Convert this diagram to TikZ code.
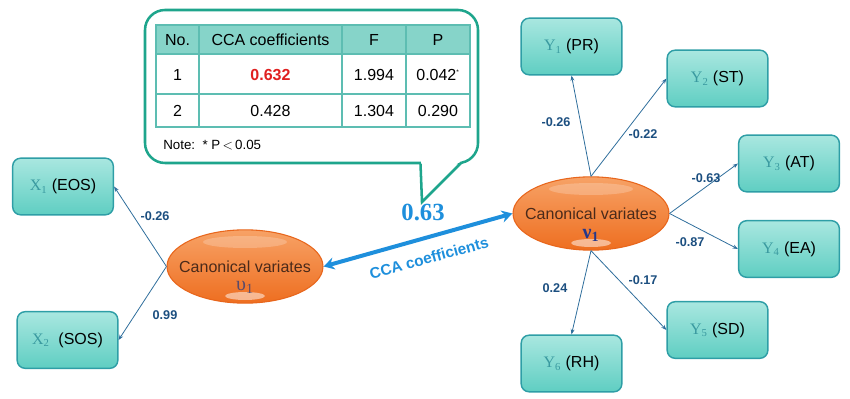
\documentclass[tikz,border=0pt]{standalone}
\usepackage{fontspec}
\setmainfont{Liberation Sans}
\newfontfamily\serifx{Liberation Serif}
\usetikzlibrary{arrows.meta,shapes.geometric}
\definecolor{boxfillT}{HTML}{A9E7E0}
\definecolor{boxfillB}{HTML}{5FCEC2}
\definecolor{boxborder}{HTML}{2E9EA6}
\definecolor{orangeT}{HTML}{F7A266}
\definecolor{orangeB}{HTML}{EE6E20}
\definecolor{orangeD}{HTML}{E8661C}
\definecolor{linec}{HTML}{2F6E9C}
\definecolor{labc}{HTML}{1C4F80}
\definecolor{bigblue}{HTML}{1E8FDC}
\definecolor{calloutc}{HTML}{1EA58C}
\definecolor{gridc}{HTML}{5DBDB2}
\definecolor{headfill}{HTML}{86D4C9}
\definecolor{xcol}{HTML}{3A9AA0}
\definecolor{ellText}{HTML}{4A2A1A}
\definecolor{upsc}{HTML}{5A4A6A}
\definecolor{nuc}{HTML}{25388A}
\definecolor{redv}{HTML}{E02020}
\tikzset{
  varbox/.style={draw=boxborder, line width=1.1pt, rounded corners=6pt,
    top color=boxfillT, bottom color=boxfillB, minimum width=75.5pt,
    minimum height=42.5pt, inner sep=0pt, font=\fontsize{12}{14}\selectfont, text=black},
  canon/.style={ellipse, draw=orangeD, line width=0.8pt, top color=orangeT,
    bottom color=orangeB, minimum width=117pt, minimum height=55pt, inner xsep=-9pt,
    inner ysep=0pt, align=center, text=ellText, font=\fontsize{12}{14}\selectfont},
  sublab/.style={inner sep=0pt, font=\serifx\fontsize{15}{15}\selectfont},
  load/.style={draw=linec, line width=0.6pt, -{Stealth[length=4pt,width=3pt]}},
  loadlab/.style={text=labc, font=\bfseries\fontsize{9.5}{11}\selectfont, inner sep=0pt},
  big/.style={draw=bigblue, line width=3pt, {Stealth[length=8pt,width=9pt]}-{Stealth[length=8pt,width=9pt]}},
  cell/.style={font=\fontsize{12}{14}\selectfont, inner sep=0pt, text=black},
}
\newcommand{\xv}[2]{{\serifx\color{xcol}#1\textsubscript{#2}}}
\begin{document}
\begin{tikzpicture}[x=0.75pt,y=-0.75pt]
\useasboundingbox (0,0) rectangle (850,399);
% callout
\draw[calloutc, line width=1.9pt, fill=white, rounded corners=15] (145,10) rectangle (478,163);
\fill[white] (421.2,160) -- (421.6,163) -- (461,163) -- (461,160.5) -- cycle;
\fill[white] (421.2,161) -- (422,201) -- (460,161) -- cycle;
\draw[calloutc, line width=1.9pt, line join=miter] (420.5,163.9) -- (422,202) -- (461.5,162.5);
% table
\fill[headfill] (156,25) rectangle (470,54);
\draw[gridc, line width=0.9pt] (156,25) rectangle (470,127);
\foreach \yy in {54,94} \draw[gridc, line width=0.9pt] (156,\yy) -- (470,\yy);
\foreach \xx in {199,342,406} \draw[gridc, line width=0.9pt] (\xx,25) -- (\xx,127);
\node[cell] (h1) at (177.5,40) {No.};
\node[cell] (h2) at (270.5,40) {CCA coefficients};
\node[cell] (h3) at (374,40) {F};
\node[cell] (h4) at (438,40) {P};
\node[cell] (a1) at (177.5,75) {1};
\node[cell, text=redv, font=\bfseries\fontsize{12}{14}\selectfont] (a2) at (270.5,75) {0.632};
\node[cell] (a3) at (374,75) {1.994};
\node[cell] (a4) at (438,75) {0.042\textsuperscript{\tiny *}};
\node[cell] (b1) at (177.5,110.5) {2};
\node[cell] (b2) at (270.5,110.5) {0.428};
\node[cell] (b3) at (374,110.5) {1.304};
\node[cell] (b4) at (438,110.5) {0.290};
\node[anchor=west, inner sep=0pt, font=\fontsize{10}{12}\selectfont] (note) at (163,145) {Note:\ \ * P\,$<$\,0.05};
% boxes
\node[varbox] (x1) at (63,186.5) {\xv{X}{1} (EOS)};
\node[varbox] (x2) at (67.5,340) {\xv{X}{2}\ \ (SOS)};
\node[varbox] (y1) at (571.5,46.5) {\xv{Y}{1} (PR)};
\node[varbox] (y2) at (717.5,78.5) {\xv{Y}{2} (ST)};
\node[varbox] (y3) at (789,163.5) {\xv{Y}{3} (AT)};
\node[varbox] (y4) at (789,249) {\xv{Y}{4} (EA)};
\node[varbox] (y5) at (717.5,330) {\xv{Y}{5} (SD)};
\node[varbox] (y6) at (571.5,363.5) {\xv{Y}{6} (RH)};
% ellipses
\node[canon] (u1) at (245,266.5) {Canonical variates};
\node[canon] (v1) at (591,213.5) {Canonical variates};
% highlights
\fill[white, opacity=0.22] (245,242) ellipse [x radius=42, y radius=6];
\fill[white, opacity=0.5] (245,296) ellipse [x radius=20, y radius=4];
\fill[white, opacity=0.22] (591,189) ellipse [x radius=42, y radius=6];
\fill[white, opacity=0.5] (591,243) ellipse [x radius=20, y radius=4];
\node[sublab, text=upsc] (u1s) at (245,287.5) {υ\textsubscript{1}};
\node[sublab, text=nuc, font=\serifx\bfseries\fontsize{15}{15}\selectfont] (v1s) at (591,235) {ν\textsubscript{1}};
% loadings
\draw[load] (u1.west) -- (x1.east);
\draw[load] (u1.west) -- (x2.east);
\draw[load] (v1.north) -- (y1.south);
\draw[load] (v1.north) -- (y2.west);
\draw[load] (v1.east) -- (y3.west);
\draw[load] (v1.east) -- (y4.west);
\draw[load] (v1.south) -- (y6.north);
\draw[load] (v1.south) -- (y5.west);
\node[loadlab] (l1) at (155,216) {-0.26};
\node[loadlab] (l2) at (165,315) {0.99};
\node[loadlab] (l3) at (556,122) {-0.26};
\node[loadlab] (l4) at (643,134) {-0.22};
\node[loadlab] (l5) at (706,178) {-0.63};
\node[loadlab] (l6) at (690,242) {-0.87};
\node[loadlab] (l7) at (643,280) {-0.17};
\node[loadlab] (l8) at (555,288) {0.24};
% big arrow
\draw[big] (u1.east) -- (v1.west);
\node[text=bigblue, font=\serifx\bfseries\fontsize{18.5}{20}\selectfont, inner sep=0pt] (r) at (423,212) {0.63};
\node[text=bigblue, font=\bfseries\fontsize{11.5}{13}\selectfont, inner sep=0pt, rotate=15.5] (cc) at (429,258) {CCA coefficients};
\end{tikzpicture}
\end{document}
